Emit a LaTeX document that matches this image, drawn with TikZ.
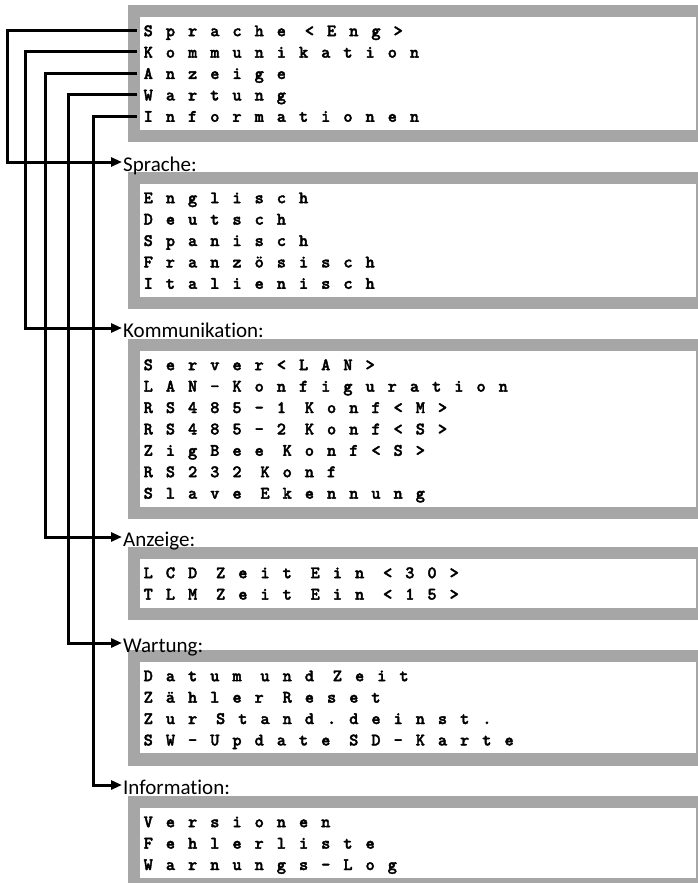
\documentclass[tikz,border=0pt]{standalone}
\usepackage{fontspec}
\usepackage{xcolor}
\usetikzlibrary{positioning, arrows.meta, calc, backgrounds}
\newfontfamily\menumono{lmmonolt10-bold}[Extension=.otf, FakeBold=2.2]
\newfontfamily\labelsans[Ligatures={NoCommon}]{Carlito}
\newcommand\menufont{\menumono\fontsize{17.5}{21.4}\selectfont\spaceskip=9pt\relax}
\definecolor{menugrey}{HTML}{A6A6A6}

% letter-spaced menu line
\ExplSyntaxOn
\NewDocumentCommand \spaced { m }
  {
    \str_map_inline:nn {#1}
      {
        \str_if_eq:nnTF {##1} {~}
          { ~ }
          { ##1 \kern 13pt \scan_stop: }
      }
  }
\ExplSyntaxOff

\begin{document}
\begin{tikzpicture}[x=1pt, y=-1pt,
      every node/.style={inner sep=0pt},
      menubox/.style={fill=white, anchor=north west, align=left, text width=549pt,
        inner xsep=3.5pt, inner ysep=4pt, font=\menufont,
        execute at begin node={\rule{0pt}{15pt}},
        execute at end node={\rule[-4pt]{0pt}{4pt}}},
      menulabel/.style={anchor=west, inner xsep=1pt, text height=20pt, text depth=2pt,
        font=\labelsans\fontsize{21}{25}\selectfont},
      conn/.style={line width=3pt, -{Triangle[length=11pt, width=9pt]}}]

    \useasboundingbox (0,0) rectangle (698,883);
    \clip (0,0) rectangle (698,883);

    % menus
    \node[menubox] (mainMenu) at (140,17) {\spaced{Sprache <Eng>}\\\spaced{Kommunikation}\\\spaced{Anzeige}\\\spaced{Wartung}\\\spaced{Informationen}};
    \node[menubox] (spracheMenu) at (140,184) {\spaced{Englisch}\\\spaced{Deutsch}\\\spaced{Spanisch}\\\spaced{Französisch}\\\spaced{Italienisch}};
    \node[menubox] (kommMenu) at (140,351) {\spaced{Server<LAN>}\\\spaced{LAN-Konfiguration}\\\spaced{RS485-1 Konf<M>}\\\spaced{RS485-2 Konf<S>}\\\spaced{ZigBee Konf<S>}\\\spaced{RS232 Konf}\\\spaced{Slave Ekennung}};
    \node[menubox] (anzeigeMenu) at (140,559) {\spaced{LCD Zeit Ein <30>}\\\spaced{TLM Zeit Ein <15>}};
    \node[menubox] (wartungMenu) at (140,662) {\spaced{Datum und Zeit}\\\spaced{Zähler Reset}\\\spaced{Zur Stand.deinst.}\\\spaced{SW-Update SD-Karte}};
    \node[menubox] (infoMenu) at (140,808) {\spaced{Versionen}\\\spaced{Fehlerliste}\\\spaced{Warnungs-Log}};

    \begin{scope}[on background layer]
      \foreach \m in {mainMenu, spracheMenu, kommMenu, anzeigeMenu, wartungMenu, infoMenu}
        \fill[menugrey] ($(\m.north west)+(-12,-12)$) rectangle ($(\m.south east)+(2,12)$);
    \end{scope}

    % titles
    \node[menulabel] (lblSprache) at (122,162) {Sprache:};
    \node[menulabel] (lblKomm) at (122,328) {Kommunikation:};
    \node[menulabel] (lblAnzeige) at (122,537) {Anzeige:};
    \node[menulabel] (lblWartung) at (122,643) {Wartung:};
    \node[menulabel] (lblInfo) at (122,785) {Information:};

    % connectors
    \coordinate (srcSprache) at (137,30.5);
    \coordinate (srcKomm) at (137,51.5);
    \coordinate (srcAnzeige) at (137,73);
    \coordinate (srcWartung) at (137,94.5);
    \coordinate (srcInfo) at (137,116);

    \draw[conn] (srcSprache) -- ++(-130,0) |- (lblSprache);
    \draw[conn] (srcKomm) -- ++(-112,0) |- (lblKomm);
    \draw[conn] (srcAnzeige) -- ++(-92,0) |- (lblAnzeige);
    \draw[conn] (srcWartung) -- ++(-69,0) |- (lblWartung);
    \draw[conn] (srcInfo) -- ++(-44,0) |- (lblInfo);
  \end{tikzpicture}
\end{document}
